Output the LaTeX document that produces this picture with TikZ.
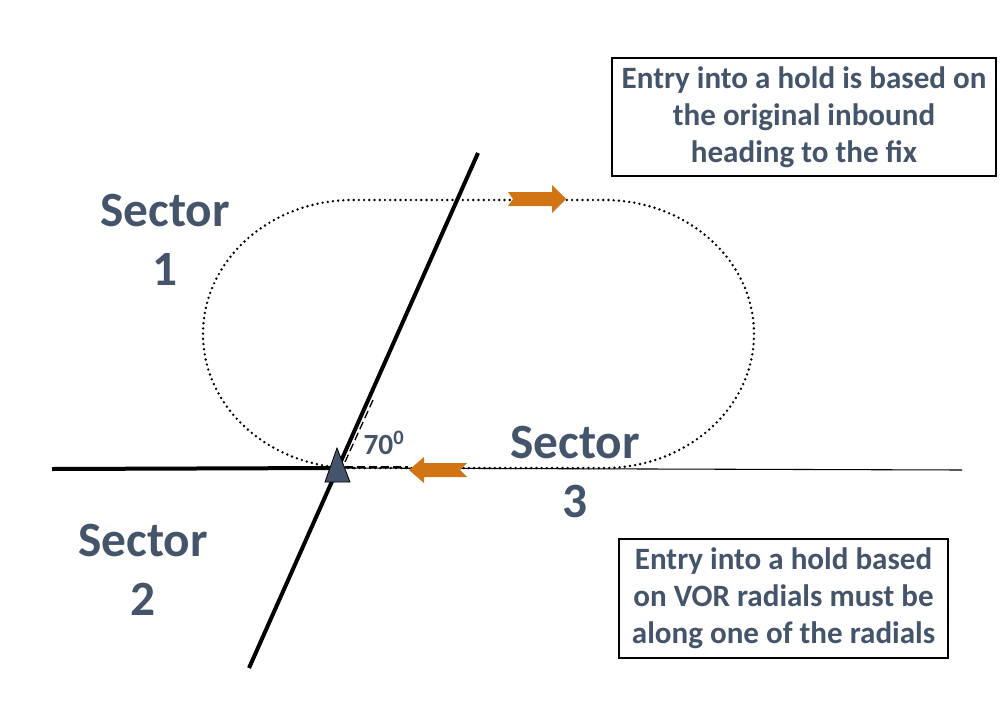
\documentclass[tikz,border=0pt]{standalone}
\usepackage{fontspec}
\setmainfont{Carlito}
\usepackage{tikz}
\usetikzlibrary{calc}
\definecolor{slate}{HTML}{44546A}
\definecolor{holdorange}{RGB}{208,116,20}
\tikzset{
  sector/.style={font=\fontsize{37}{44}\selectfont\bfseries, text=slate, align=center},
  notebox/.style={draw, line width=1pt, font=\fontsize{23.3}{27.75}\selectfont\bfseries, text=slate, align=center, inner sep=0pt},
  holdpath/.style={line width=2pt, line cap=round, dash pattern=on 0pt off 3.9pt},
  guide/.style={line width=1pt, dash pattern=on 6pt off 3pt},
}
\begin{document}
\begin{tikzpicture}[x=0.75pt,y=-0.75pt]
\useasboundingbox (0,0) rectangle (1005,710);

% radials and inbound course
\coordinate (radN) at (478,153);
\coordinate (radS) at (249,668);
\coordinate (inW) at (52,469);
\coordinate (inE) at (962,470);
\coordinate (fix) at (337,468);
\draw[line width=3pt] (inW) -- (fix);
\draw[line width=0.8pt] (fix) -- (inE);
\draw[line width=3pt] (radS) -- (radN);

% hold pattern
\draw[holdpath] ($(fix)+(16,0)$) arc[start angle=270, end angle=90, x radius=112.5pt, y radius=100.5pt] -- ++(251,0)
    arc[start angle=90, end angle=-90, x radius=112.5pt, y radius=100.5pt] -- cycle;
\fill[holdorange] (508,192) -- (552,192) -- (552,185) -- (566,199) -- (552,213) -- (552,206) -- (508,206) -- (513,199) -- cycle;
\fill[holdorange] (409,470) -- (424,457) -- (424,463) -- (467,463) -- (460,470) -- (467,477) -- (424,477) -- (424,483) -- cycle;

% angle
\draw[guide] (345,467) -- (408,467);
\draw[guide] (345,462) -- (373,400);
\filldraw[fill=slate, draw=black, line width=0.6pt] (337,448) -- (350,482) -- (325,482) -- cycle;
\node[font=\fontsize{22}{25}\selectfont\bfseries, text=slate] (angle) at (384,443) {70\textsuperscript{0}};

% sectors
\node[sector] (sec1) at (165,240) {Sector\\1};
\node[sector] (sec2) at (143,570) {Sector\\2};
\node[sector] (sec3) at (575,472) {Sector\\3};

% notes
\node[notebox, minimum width=288pt, minimum height=88.5pt] (note1) at (804,117)
    {Entry into a hold is based on\\the original inbound\\heading to the fix};
\node[notebox, minimum width=246.75pt, minimum height=89.25pt] (note2) at (783.5,598.5)
    {Entry into a hold based\\on VOR radials must be\\along one of the radials};

\end{tikzpicture}
\end{document}
